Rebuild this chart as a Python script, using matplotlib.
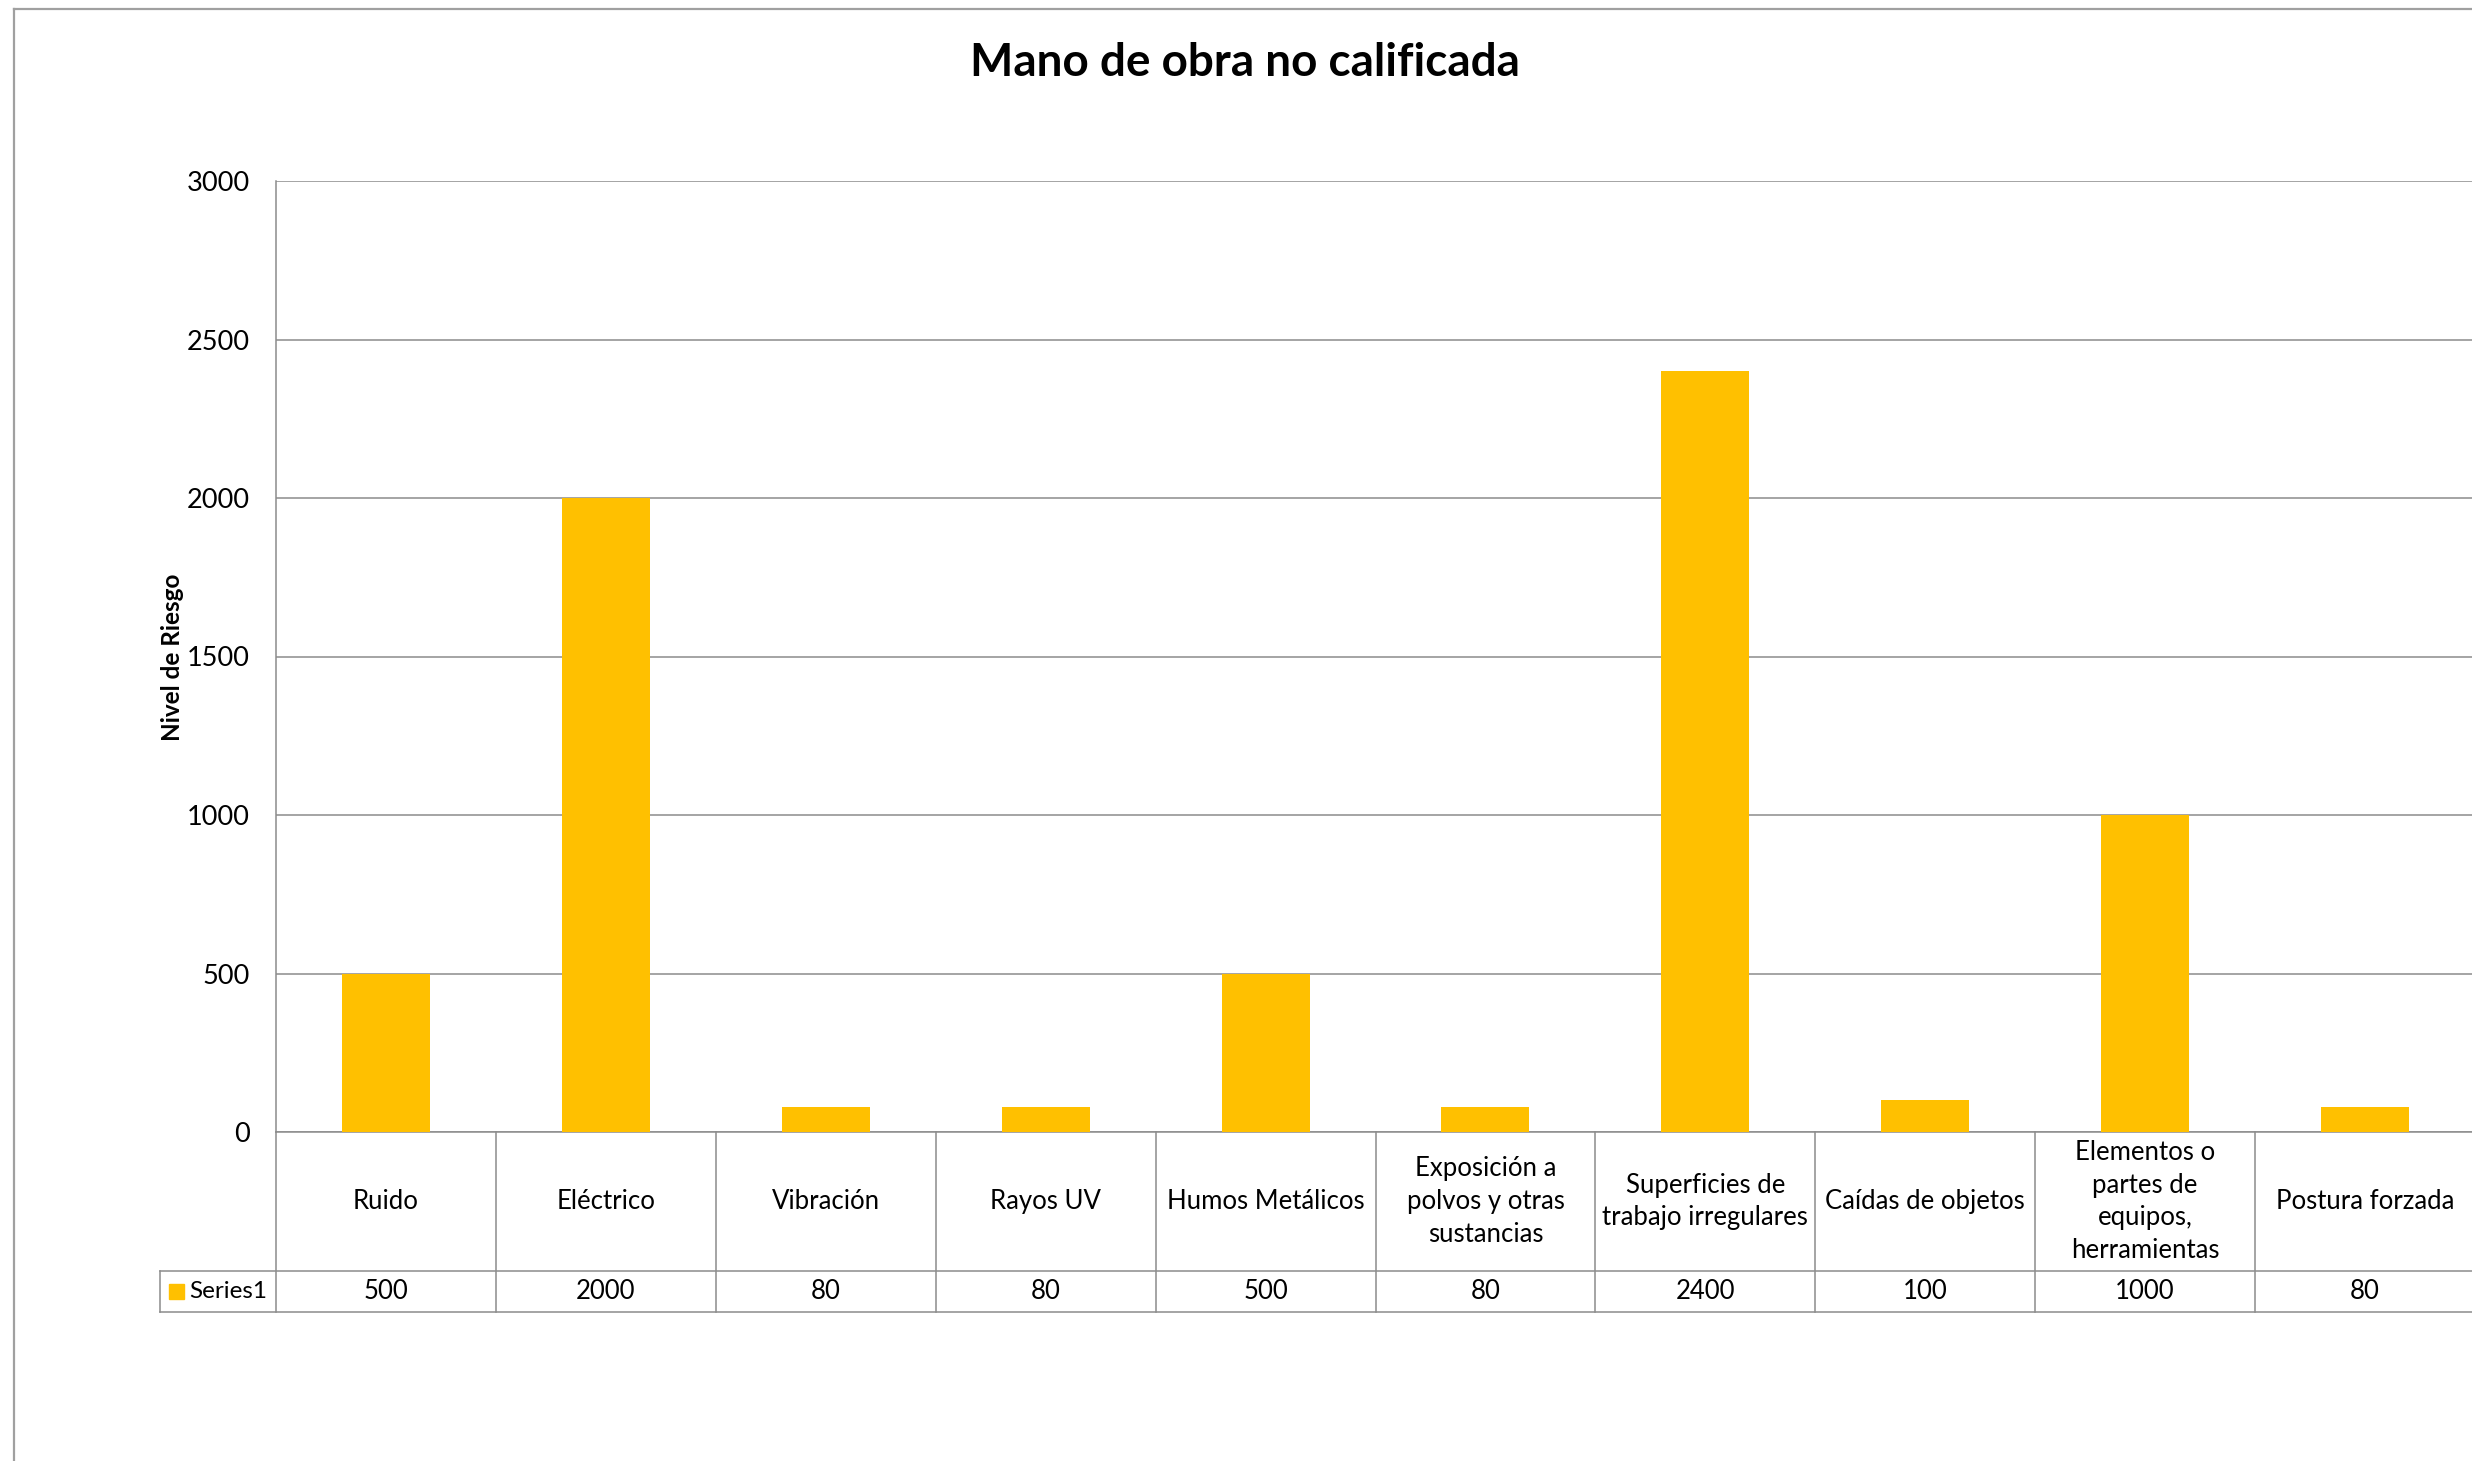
import matplotlib.pyplot as plt
import matplotlib.transforms as transforms
from matplotlib.lines import Line2D
from matplotlib.patches import Rectangle

categorias = [
    "Ruido",
    "Eléctrico",
    "Vibración",
    "Rayos UV",
    "Humos Metálicos",
    "Exposición a\npolvos y otras\nsustancias",
    "Superficies de\ntrabajo irregulares",
    "Caídas de objetos",
    "Elementos o\npartes de\nequipos,\nherramientas",
    "Postura forzada",
]
nivel_riesgo = [500, 2000, 80, 80, 500, 80, 2400, 100, 1000, 80]
y_ticks = [0, 500, 1000, 1500, 2000, 2500, 3000]
serie = "Series1"
titulo = "Mano de obra no calificada"
eje_y = "Nivel de Riesgo"

plt.rcParams['font.family'] = ['Lato', 'DejaVu Sans']

W, H = 2472, 1461
AMARILLO = "#FFC000"
GRIS = "#8C8C8C"

fig = plt.figure(figsize=(W / 100, H / 100), dpi=100)

# marco exterior del grafico
fig.add_artist(Line2D([14 / W, 14 / W], [0, 1 - 9 / H], color="#A0A0A0", lw=1.6))
fig.add_artist(Line2D([14 / W, 1], [1 - 9 / H, 1 - 9 / H], color="#A0A0A0", lw=1.6))

ax = fig.add_axes([276 / W, 1 - 1132 / H, (2475 - 276) / W, (1132 - 181) / H])
x = list(range(len(categorias)))
ax.bar(x, nivel_riesgo, width=0.4, color=AMARILLO, zorder=3)
ax.set_xlim(-0.5, len(categorias) - 0.5)
ax.set_ylim(0, 3000)
ax.set_yticks(y_ticks)
ax.set_xticks([])
ax.grid(axis="y", color=GRIS, lw=1.1, zorder=0)
for s in ["top", "right"]:
    ax.spines[s].set_visible(False)
ax.spines["left"].set_color(GRIS)
ax.spines["bottom"].set_color(GRIS)
ax.spines["left"].set_linewidth(1.1)
ax.spines["bottom"].set_linewidth(1.1)
ax.tick_params(axis="y", length=0, pad=19, labelsize=19.5)

fig.text(173 / W, 1 - 657 / H, eje_y, fontsize=17.5, fontweight="bold",
         rotation=90, ha="center", va="center")
fig.text(1245 / W, 1 - 63 / H, titulo, fontsize=33, fontweight="bold",
         ha="center", va="center")

# tabla de datos debajo del eje
tr = transforms.blended_transform_factory(ax.transData, ax.transAxes)
fila1 = -(1271 - 1132) / (1132 - 181)
fila2 = -(1312 - 1132) / (1132 - 181)
izq = -0.5 - (276 - 160) / 219.9
n = len(categorias)

def linea(xs, ys):
    ax.add_line(Line2D(xs, ys, transform=tr, color=GRIS, lw=1.1, clip_on=False))

linea([-0.5, -0.5], [0, fila2])
for i in range(n):
    linea([i + 0.5, i + 0.5], [0, fila2])
linea([izq, n - 0.5], [fila1, fila1])
linea([izq, n - 0.5], [fila2, fila2])
linea([izq, izq], [fila1, fila2])

for i, (cat, val) in enumerate(zip(categorias, nivel_riesgo)):
    ax.text(i, fila1 / 2, cat, transform=tr, ha="center", va="center",
            fontsize=18.5, linespacing=1.4, clip_on=False)
    ax.text(i, (fila1 + fila2) / 2, str(val), transform=tr, ha="center",
            va="center", fontsize=18.5, clip_on=False)

# clave de la serie
fig.add_artist(Rectangle((169 / W, 1 - 1299 / H), 15 / W, 15 / H,
                         color=AMARILLO, transform=fig.transFigure))
fig.text(189 / W, 1 - 1292 / H, serie, fontsize=17.5, ha="left", va="center")

fig.savefig("out.png", dpi=100)
